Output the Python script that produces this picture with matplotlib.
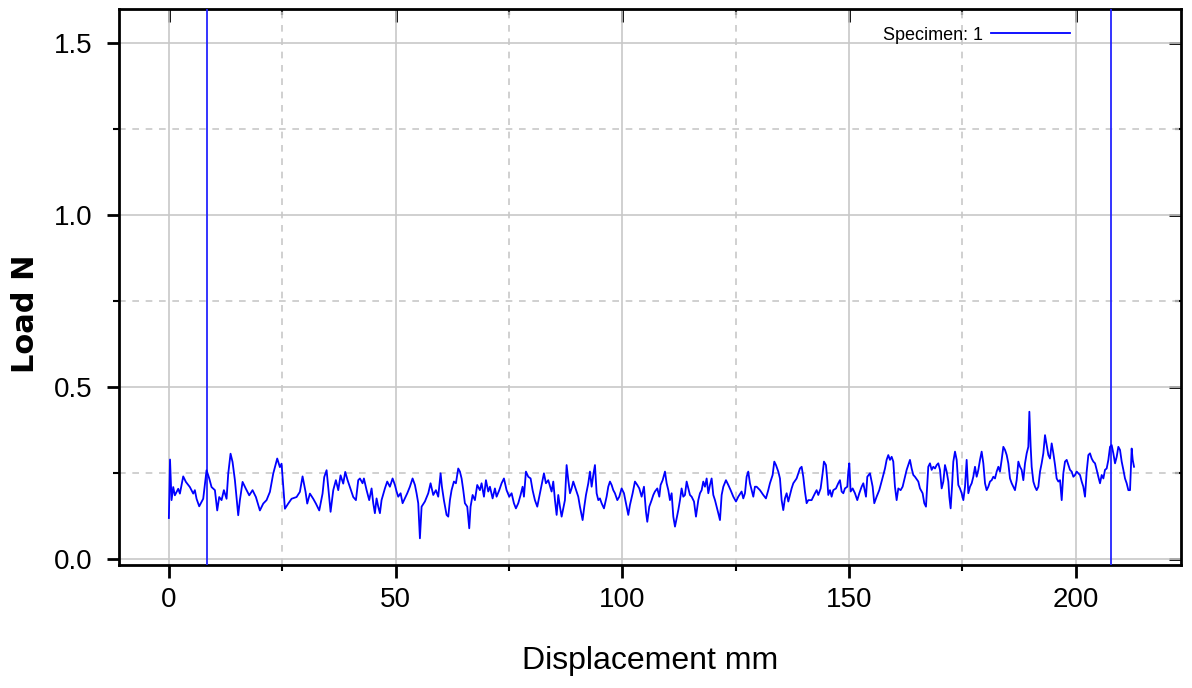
import matplotlib
matplotlib.use('Agg')
import matplotlib.pyplot as plt

# fuente parecida a Arial (no hay version estrecha instalada)
plt.rcParams['font.family'] = ['Liberation Sans', 'DejaVu Sans']

# Datos: desplazamiento (mm) y carga (N)
disp = [
    0.00, 0.25, 0.59, 0.96, 1.32, 2.06, 2.43, 3.16, 3.75, 4.63, 5.37, 5.73, 6.10, 6.69, 7.57, 8.31,
    8.90, 9.41, 10.15, 10.66, 11.10, 11.62, 12.13, 12.72, 13.09, 13.60, 14.04, 14.56, 15.29, 15.66,
    16.25, 16.98, 17.72, 18.45, 19.19, 20.07, 20.81, 21.54, 22.28, 23.01, 23.89, 24.48, 24.85, 25.59,
    26.32, 27.06, 28.16, 28.89, 29.48, 30.14, 30.51, 31.10, 31.83, 32.42, 33.16, 33.89, 34.26, 34.78,
    35.14, 35.66, 36.25, 36.83, 37.35, 37.86, 38.45, 38.89, 39.41, 39.92, 40.66, 41.25, 41.76,
    42.13, 42.71, 43.01, 43.60, 44.18, 44.70, 45.07, 45.43, 45.80, 46.17, 46.54, 46.90, 47.64, 48.15,
    48.74, 49.33, 49.85, 50.21, 50.58, 51.10, 51.54, 52.05, 52.57, 53.15, 53.74, 54.26, 54.62, 54.99,
    55.36, 55.73, 56.46, 57.20, 57.71, 58.30, 58.89, 59.40, 59.92, 60.21, 60.65, 61.24, 61.61, 61.98,
    62.34, 62.86, 63.30, 63.81, 64.18, 64.55, 64.92, 65.28, 65.80, 66.24, 66.53, 66.98, 67.49, 68.00,
    68.59, 68.96, 69.48, 69.92, 70.43, 70.80, 71.39, 71.90, 72.27, 72.86, 73.37, 73.89, 74.47, 75.06,
    75.58, 76.09, 76.53, 77.05, 77.56, 78.00, 78.30, 78.74, 79.25, 79.77, 80.21, 80.72, 81.24, 81.83,
    82.19, 82.71, 83.15, 83.66,
    84.40, 84.77, 85.14, 85.51, 85.87, 86.24, 86.61, 86.98, 87.34, 87.71, 88.08, 88.45, 88.81, 89.18,
    89.55, 89.92, 90.28, 90.65, 91.02, 91.24, 91.61, 91.98, 92.49, 92.86, 93.23, 93.59, 93.96, 94.33,
    94.70, 95.06, 95.43, 95.95, 96.53, 96.90, 97.27, 97.64, 98.00, 98.37, 98.89, 99.33, 99.84, 100.36,
    100.80, 101.31, 101.68, 102.27, 102.78, 103.30, 103.74, 104.25, 104.77, 105.21, 105.50, 105.94,
    106.46, 106.83, 107.19, 107.71, 108.15, 108.44, 108.89, 109.40, 109.77, 110.14, 110.50, 110.87,
    111.24, 111.61, 111.97, 112.34, 112.71, 113.07, 113.44, 113.81, 114.18, 114.55, 114.91, 115.28,
    115.80, 116.24, 116.75, 117.12, 117.49, 117.85, 118.22, 118.59, 118.96, 119.32, 119.69, 120.06,
    120.43, 120.80, 121.16, 121.53, 121.90, 122.27, 122.85, 123.37, 123.88, 124.47, 125.06, 125.57,
    126.30, 126.67, 127.04, 127.41, 127.77, 128.14, 128.51, 128.88, 129.24, 129.61, 130.35, 131.08,
    131.67, 132.18, 132.55, 133.14, 133.51, 133.88, 134.39, 134.76, 135.13, 135.49, 135.86, 136.23,
    136.60, 136.96, 137.33, 137.70, 138.43, 139.17, 139.54, 139.90, 140.27, 140.64, 141.01, 141.74,
    142.48, 142.85, 143.21, 143.73, 144.17, 144.46, 144.90, 145.20, 145.42, 145.79, 146.15, 146.52,
    147.11, 147.62, 147.99, 148.36, 148.73, 149.09, 149.61, 149.83, 150.05, 150.34, 150.79, 151.30,
    151.81, 152.26, 152.77, 153.14, 153.73, 154.02, 154.61, 155.20, 155.56, 156.08, 156.66, 157.18,
    157.55, 157.92, 158.28, 158.65, 159.02, 159.39, 159.75, 160.12, 160.49, 160.86, 161.37, 161.81,
    162.33, 162.70, 163.06, 163.43, 163.80, 164.17, 164.53, 165.27, 165.64, 166.22, 166.59, 166.96,
    167.47, 167.84,
    168.21, 168.58, 168.95, 169.32, 169.68, 170.05, 170.42, 170.79, 171.15, 171.52, 171.89, 172.11,
    172.40, 172.70, 172.99, 173.36, 173.73, 174.09, 174.46, 174.83, 175.20, 175.57, 175.93, 176.30,
    176.67, 177.04, 177.40, 177.77, 178.14, 178.51, 178.87, 179.24, 179.61, 179.98, 180.34, 180.71,
    181.08, 181.45, 181.81, 182.18, 182.55, 182.92, 183.28, 183.65, 184.02, 184.39, 184.76, 185.12,
    185.49, 185.86, 186.23, 186.59, 186.96, 187.33, 187.70, 188.06, 188.43, 188.80, 189.17, 189.53,
    189.76, 190.05, 190.27, 190.64, 191.00, 191.37, 191.74, 192.11, 192.47, 192.84, 193.21, 193.58,
    193.95, 194.31, 194.68, 195.05, 195.42, 195.78, 196.15, 196.52, 196.89, 197.25, 197.62, 197.99,
    198.36, 198.72, 199.09, 199.46, 199.83, 200.19, 200.56, 200.93, 201.30, 201.66, 202.03, 202.40,
    202.77, 203.13, 203.50, 203.87, 204.24, 204.61, 204.97, 205.34, 205.71, 206.08, 206.44, 206.81,
    207.18, 207.55, 207.91, 208.28, 208.65, 209.02, 209.38, 209.75, 210.12, 210.49, 210.85, 211.22,
    211.59, 211.96, 212.32, 212.55, 212.84,
]
load = [
    0.120, 0.290, 0.172, 0.210, 0.186, 0.205, 0.191, 0.241, 0.225, 0.210, 0.191, 0.201, 0.176, 0.154, 0.176, 0.259,
    0.235, 0.210, 0.201, 0.142, 0.181, 0.172, 0.201, 0.176, 0.249, 0.307, 0.283, 0.230, 0.128, 0.172,
    0.225, 0.205, 0.186, 0.201, 0.181, 0.142, 0.162, 0.172, 0.196, 0.249, 0.293, 0.268, 0.278, 0.147,
    0.162, 0.176, 0.181, 0.196, 0.241, 0.196, 0.162, 0.191, 0.176, 0.162, 0.142, 0.191, 0.239, 0.259,
    0.210, 0.138, 0.201, 0.230, 0.201, 0.244, 0.220, 0.254, 0.230, 0.210, 0.181, 0.172, 0.230,
    0.235, 0.221, 0.235, 0.201, 0.172, 0.206, 0.163, 0.134, 0.177, 0.153, 0.134, 0.172, 0.206, 0.226,
    0.211, 0.235, 0.216, 0.197, 0.182, 0.192, 0.163, 0.177, 0.192, 0.211, 0.235, 0.216, 0.192, 0.163,
    0.061, 0.153, 0.168, 0.192, 0.221, 0.187, 0.201, 0.182, 0.250, 0.211, 0.172, 0.129, 0.124, 0.172,
    0.201, 0.226, 0.221, 0.264, 0.255, 0.235, 0.201, 0.163, 0.153, 0.090, 0.153, 0.187, 0.172, 0.216,
    0.201, 0.221, 0.182, 0.230, 0.197, 0.211, 0.177, 0.206, 0.182, 0.201, 0.221, 0.235, 0.201, 0.182,
    0.192, 0.163, 0.148, 0.163, 0.187, 0.211, 0.182, 0.255, 0.240, 0.235, 0.201, 0.172, 0.153, 0.192,
    0.216, 0.250, 0.221, 0.230,
    0.197, 0.226, 0.172, 0.129, 0.187, 0.153, 0.124, 0.148, 0.172, 0.274, 0.230, 0.192, 0.206, 0.226,
    0.211, 0.197, 0.182, 0.153, 0.129, 0.114, 0.153, 0.187, 0.221, 0.255, 0.211, 0.245, 0.274, 0.192,
    0.172, 0.177, 0.163, 0.148, 0.182, 0.211, 0.226, 0.216, 0.201, 0.192, 0.172, 0.182, 0.206, 0.192,
    0.163, 0.129, 0.158, 0.192, 0.226, 0.216, 0.206, 0.182, 0.211, 0.138, 0.109, 0.153,
    0.172, 0.187, 0.197, 0.206, 0.182, 0.216, 0.230, 0.255, 0.221, 0.201, 0.172, 0.192,
    0.124, 0.095, 0.119, 0.143, 0.172, 0.206, 0.182, 0.187, 0.226, 0.206, 0.187, 0.182,
    0.168, 0.124, 0.172, 0.192, 0.201, 0.226, 0.211, 0.235, 0.192, 0.216, 0.235, 0.187,
    0.172, 0.153, 0.134, 0.114, 0.187, 0.211, 0.230, 0.216, 0.201, 0.182, 0.168, 0.182,
    0.197, 0.177, 0.192, 0.240, 0.255, 0.221, 0.201, 0.182, 0.211, 0.211, 0.201, 0.187,
    0.177, 0.201, 0.221, 0.245, 0.284, 0.274, 0.255, 0.235, 0.172, 0.143, 0.177, 0.192,
    0.168, 0.187, 0.206, 0.221, 0.235, 0.264, 0.269, 0.240, 0.197, 0.163, 0.172, 0.172,
    0.192, 0.201, 0.187, 0.206, 0.250, 0.284, 0.274, 0.230, 0.187, 0.201, 0.182, 0.201,
    0.206, 0.221, 0.230, 0.197, 0.192, 0.206, 0.211, 0.255, 0.279, 0.197, 0.206, 0.192,
    0.172, 0.192, 0.211, 0.221, 0.182, 0.240, 0.250, 0.211, 0.163, 0.182, 0.201, 0.226,
    0.245, 0.264, 0.289, 0.303, 0.289, 0.298, 0.284, 0.211, 0.172, 0.206, 0.201, 0.211,
    0.240, 0.260, 0.274, 0.289, 0.264, 0.245, 0.240, 0.226, 0.206, 0.192, 0.163, 0.153,
    0.269, 0.279,
    0.260, 0.269, 0.264, 0.274, 0.279, 0.260, 0.206, 0.226, 0.274, 0.255, 0.226, 0.182,
    0.148, 0.211, 0.284, 0.313, 0.289, 0.216, 0.206, 0.192, 0.172, 0.211, 0.289, 0.192,
    0.211, 0.221, 0.240, 0.269, 0.240, 0.260, 0.289, 0.313, 0.279, 0.221, 0.201, 0.211,
    0.226, 0.230, 0.240, 0.235, 0.255, 0.269, 0.255, 0.289, 0.327, 0.318, 0.303, 0.279,
    0.235, 0.221, 0.211, 0.201, 0.230, 0.284, 0.269, 0.260, 0.230, 0.279, 0.308, 0.327,
    0.429, 0.327, 0.269, 0.226, 0.211, 0.201, 0.211, 0.255, 0.279, 0.308, 0.361, 0.332,
    0.303, 0.293, 0.337, 0.308, 0.274, 0.235, 0.226, 0.230, 0.172, 0.250, 0.284, 0.289,
    0.274, 0.260, 0.255, 0.240, 0.245, 0.255, 0.250, 0.245, 0.226, 0.211, 0.182, 0.255,
    0.303, 0.308, 0.293, 0.284, 0.279, 0.260, 0.240, 0.221, 0.245, 0.235, 0.260, 0.264,
    0.289, 0.327, 0.332, 0.308, 0.279, 0.298, 0.327, 0.318, 0.284, 0.260, 0.235, 0.221,
    0.201, 0.201, 0.322, 0.289, 0.269,
]

# lineas verticales (marcadores de inicio / fin)
marcas = [8.5, 207.8]

x_major = [0, 50, 100, 150, 200]
x_minor = [25, 75, 125, 175]
y_major = [0.0, 0.5, 1.0, 1.5]
y_minor = [0.25, 0.75, 1.25]

fig = plt.figure(figsize=(11.92, 6.88), dpi=100)
ax = fig.add_axes([119 / 1192, 1 - 565 / 688, 1062 / 1192, 555.7 / 688])

ax.set_xlim(-11.0, 223.2)
ax.set_ylim(-0.0166, 1.599)

# rejilla: continua en mayores, discontinua en menores
ax.set_xticks(x_major)
ax.set_xticks(x_minor, minor=True)
ax.set_yticks(y_major)
ax.set_yticks(y_minor, minor=True)
ax.set_yticklabels(['0.0', '0.5', '1.0', '1.5'])
ax.grid(which='major', color='#c8c8c8', linewidth=1.2, linestyle='-')
ax.grid(which='minor', color='#c8c8c8', linewidth=1.2, linestyle=(0, (4, 4)))
ax.set_axisbelow(True)

for m in marcas:
    ax.axvline(m, color='#2424ff', linewidth=1.3, zorder=3)

ax.plot(disp, load, color='#0000ff', linewidth=1.3, label='Specimen: 1', zorder=4)

# ejes y ticks
for s in ax.spines.values():
    s.set_linewidth(2.0)
    s.set_color('black')
ax.tick_params(which='major', direction='out', length=9, width=2, labelsize=20, colors='black')
ax.tick_params(which='minor', direction='out', length=4.5, width=1.5)
ax.tick_params(axis='x', which='major', pad=7)
ax.tick_params(axis='y', which='major', pad=10)

# ticks hacia dentro arriba y a la derecha
top = ax.secondary_xaxis('top')
top.set_xticks(x_major)
top.set_xticks(x_minor, minor=True)
top.tick_params(which='major', direction='in', length=9, width=2, labeltop=False)
top.tick_params(which='minor', direction='in', length=4.5, width=1.5)
right = ax.secondary_yaxis('right')
right.set_yticks(y_major)
right.set_yticks(y_minor, minor=True)
right.tick_params(which='major', direction='in', length=9, width=2, labelright=False)
right.tick_params(which='minor', direction='in', length=4.5, width=1.5)

ax.set_xlabel('Displacement mm', fontsize=23)
ax.xaxis.set_label_coords(0.5, -0.145)
ax.set_ylabel('Load N', fontsize=22, fontweight='bold', family='DejaVu Sans')
ax.yaxis.set_label_coords(-0.074, 0.452)

ax.legend(loc='upper right', bbox_to_anchor=(0.904, 0.985), frameon=False, fontsize=13,
          handlelength=4.4, markerfirst=False, borderpad=0, handletextpad=0.4)

plt.savefig('out.png', dpi=100, facecolor='white')
plt.close()
